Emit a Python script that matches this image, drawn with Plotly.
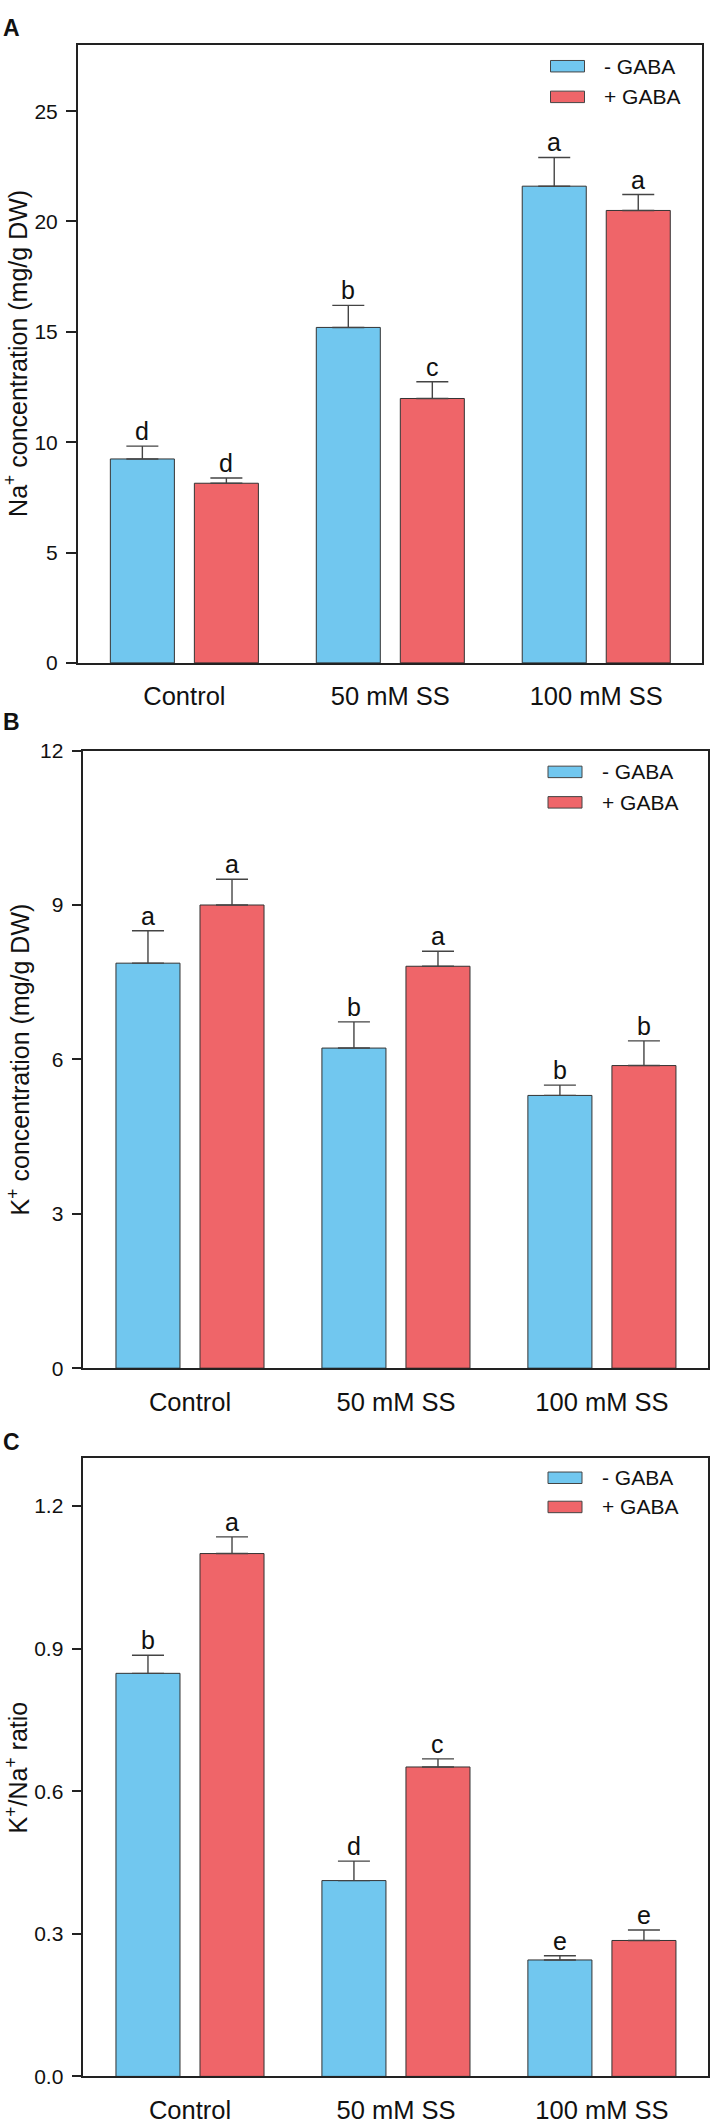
import plotly.graph_objects as go

W, H = 710, 2126

groups = ["Control", "50 mM SS", "100 mM SS"]

# panel A: Na+ concentration
na_minus = [9.24, 15.2, 21.6]
na_minus_err = [0.58, 1.0, 1.3]
na_plus = [8.14, 11.98, 20.5]
na_plus_err = [0.24, 0.76, 0.72]
na_let_minus = ["d", "b", "a"]
na_let_plus = ["d", "c", "a"]

# panel B: K+ concentration
k_minus = [7.87, 6.22, 5.30]
k_minus_err = [0.63, 0.51, 0.20]
k_plus = [9.0, 7.81, 5.88]
k_plus_err = [0.50, 0.29, 0.48]
k_let_minus = ["a", "b", "b"]
k_let_plus = ["a", "a", "b"]

# panel C: K+/Na+ ratio
r_minus = [0.848, 0.412, 0.245]
r_minus_err = [0.038, 0.041, 0.009]
r_plus = [1.10, 0.651, 0.286]
r_plus_err = [0.035, 0.017, 0.022]
r_let_minus = ["b", "d", "e"]
r_let_plus = ["a", "c", "e"]

BLUE = "#71C7EF"
RED = "#EF6569"
FONT = "Arial, Liberation Sans, sans-serif"


def px_x(x):
    return x / W


def px_y(y):
    return 1 - y / H


panels = [
    dict(lab="A", m=na_minus, me=na_minus_err, p=na_plus, pe=na_plus_err,
         lm=na_let_minus, lp=na_let_plus,
         title="Na<sup>+</sup> concentration (mg/g DW)",
         ticks=[0, 5, 10, 15, 20, 25], fmt="d", rng=[0, 28],
         box=(77.7, 33.3, 702.3, 658), lab_y=16, leg=(21.5, 52.5), sw_x=550.5, tx=602, tt_x=16),
    dict(lab="B", m=k_minus, me=k_minus_err, p=k_plus, pe=k_plus_err,
         lm=k_let_minus, lp=k_let_plus,
         title="K<sup>+</sup> concentration (mg/g DW)",
         ticks=[0, 3, 6, 9, 12], fmt="d", rng=[0, 12],
         box=(83.3, 746.7, 708, 1371), lab_y=717.5, leg=(21.5, 52.3), sw_x=548, tx=600, tt_x=19),
    dict(lab="C", m=r_minus, me=r_minus_err, p=r_plus, pe=r_plus_err,
         lm=r_let_minus, lp=r_let_plus,
         title="K<sup>+</sup>/Na<sup>+</sup> ratio",
         ticks=[0, 0.3, 0.6, 0.9, 1.2], fmt=".1f", rng=[0, 1.3],
         box=(83.3, 1462.3, 708, 2087), lab_y=1445.5, leg=(19.5, 49), sw_x=548, tx=600, tt_x=17),
]

fig = go.Figure()
annotations = []
shapes = []
OFF = 0.204

for i, pn in enumerate(panels):
    n = "" if i == 0 else str(i + 1)
    xa, ya = "x" + n, "y" + n
    left, top, right, bottom = pn["box"]

    for vals, errs, col, name, sgn, lets in [
        (pn["m"], pn["me"], BLUE, "- GABA", -1, pn["lm"]),
        (pn["p"], pn["pe"], RED, "+ GABA", 1, pn["lp"]),
    ]:
        fig.add_trace(go.Bar(
            x=groups, y=vals, name=name, xaxis=xa, yaxis=ya,
            marker=dict(color=col, line=dict(color="#333333", width=1)),
            error_y=dict(type="data", array=errs, arrayminus=[0] * len(errs),
                         symmetric=False, color="#444444", thickness=1.4, width=16),
            showlegend=False,
        ))
        for j, t in enumerate(lets):
            annotations.append(dict(
                x=j + sgn * OFF, y=vals[j] + errs[j], xref=xa, yref=ya,
                text=t, showarrow=False, yanchor="bottom", yshift=-1,
                font=dict(size=25, color="#111111", family=FONT)))

    layout_x = dict(domain=[px_x(left), px_x(right)], range=[-0.518, 2.515],
                    showline=True, mirror=True, linecolor="#222222", linewidth=1.5,
                    ticks="", tickfont=dict(size=25.5, color="#111111", family=FONT),
                    ticklabelstandoff=10, anchor=ya, showgrid=False, zeroline=False)
    layout_y = dict(domain=[px_y(bottom), px_y(top)], range=pn["rng"],
                    tickvals=pn["ticks"], tickformat=pn["fmt"],
                    showline=True, mirror=True, linecolor="#222222", linewidth=1.5,
                    ticks="outside", ticklen=10, tickwidth=1.5, tickcolor="#222222",
                    tickfont=dict(size=21, color="#111111", family=FONT),
                    ticklabelstandoff=4, anchor=xa, showgrid=False, zeroline=False)
    if i > 0:
        layout_x["type"] = "category"
    fig.update_layout(**{"xaxis" + n: layout_x, "yaxis" + n: layout_y})

    # y axis title
    annotations.append(dict(
        x=px_x(pn["tt_x"]), y=px_y((top + bottom) / 2), xref="paper", yref="paper",
        text=pn["title"], textangle=-90, showarrow=False, xanchor="center", yanchor="middle",
        font=dict(size=25, color="#111111", family=FONT)))
    # panel letter
    annotations.append(dict(
        x=px_x(1), y=px_y(pn["lab_y"]), xref="paper", yref="paper",
        text="<b>" + pn["lab"] + "</b>", showarrow=False, xanchor="left", yanchor="middle",
        font=dict(size=23, color="#111111", family=FONT)))

    # legend drawn by hand (wide swatches)
    for k, (col, txt) in enumerate([(BLUE, "- GABA"), (RED, "+ GABA")]):
        cy = top + pn["leg"][k]
        shapes.append(dict(
            type="rect", xref="paper", yref="paper",
            x0=px_x(pn["sw_x"]), x1=px_x(pn["sw_x"] + 34),
            y0=px_y(cy - 5.8), y1=px_y(cy + 5.8),
            fillcolor=col, line=dict(color="#444444", width=1)))
        annotations.append(dict(
            x=px_x(pn["tx"]), y=px_y(cy), xref="paper", yref="paper",
            text=txt, showarrow=False, xanchor="left", yanchor="middle",
            font=dict(size=21, color="#111111", family=FONT)))

fig.update_layout(
    width=W, height=H,
    margin=dict(l=0, r=0, t=0, b=0),
    paper_bgcolor="white", plot_bgcolor="white",
    barmode="group", bargap=0.184, bargroupgap=0.238,
    annotations=annotations, shapes=shapes,
    font=dict(family=FONT),
)

fig.write_html("out.html", config={"displayModeBar": False},
               post_script="document.body.style.margin='0';document.body.style.overflow='hidden';")
